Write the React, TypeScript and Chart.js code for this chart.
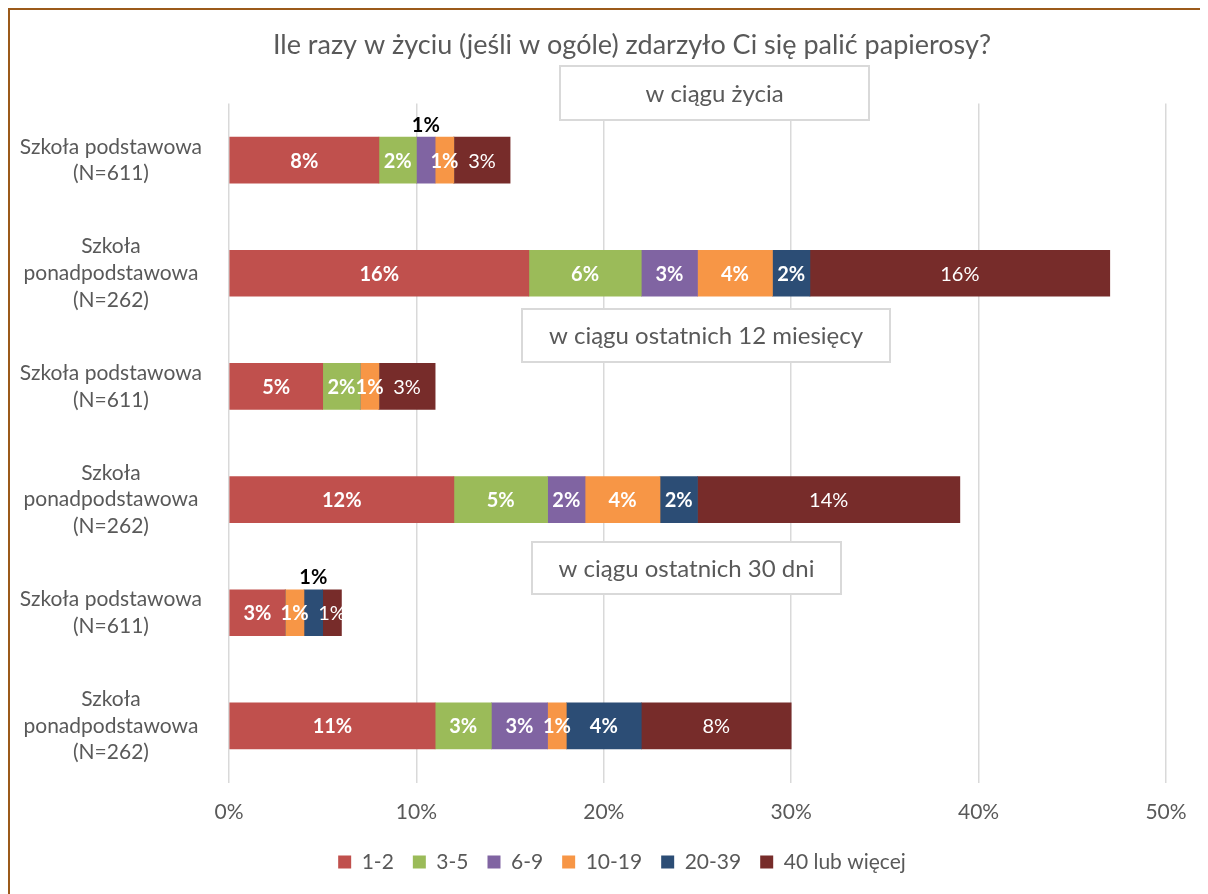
import React, { useEffect, useRef } from "react";
import { Chart, registerables } from "chart.js";

Chart.register(...registerables);

const TITLE = "Ile razy w życiu (jeśli w ogóle) zdarzyło Ci się palić papierosy?";

const categories: string[][] = [
  ["Szkoła podstawowa", "(N=611)"],
  ["Szkoła", "ponadpodstawowa", "(N=262)"],
  ["Szkoła podstawowa", "(N=611)"],
  ["Szkoła", "ponadpodstawowa", "(N=262)"],
  ["Szkoła podstawowa", "(N=611)"],
  ["Szkoła", "ponadpodstawowa", "(N=262)"],
];

const seriesNames = ["1-2", "3-5", "6-9", "10-19", "20-39", "40 lub więcej"];
const seriesColors = ["#C0504D", "#9BBB59", "#8064A2", "#F79646", "#2C4D75", "#772C2A"];

const s1_2 = [8, 16, 5, 12, 3, 11];
const s3_5 = [2, 6, 2, 5, 0, 3];
const s6_9 = [1, 3, 0, 2, 0, 3];
const s10_19 = [1, 4, 1, 4, 1, 1];
const s20_39 = [0, 2, 0, 2, 1, 4];
const s40plus = [3, 16, 3, 14, 1, 8];

const seriesValues = [s1_2, s3_5, s6_9, s10_19, s20_39, s40plus];

const xTicks = [0, 10, 20, 30, 40, 50];

// labels drawn above the bar (dataset index, category index)
const labelsAbove: [number, number][] = [
  [2, 0],
  [4, 4],
];

const periodTitles = ["w ciągu życia", "w ciągu ostatnich 12 miesięcy", "w ciągu ostatnich 30 dni"];

const FONT = "Lato, 'Open Sans', sans-serif";
const GREY = "#595959";

// annotation box geometry (canvas pixels)
const periodBoxes = [
  { x: 550, y: 56, w: 309, h: 54 },
  { x: 512, y: 299, w: 368, h: 53 },
  { x: 522, y: 532, w: 309, h: 52 },
];
const titlePos = { x: 622, y: 35 };
const legendShift = 34;

const overlayPlugin = {
  id: "overlay",
  afterLayout(chart: any) {
    if (chart.legend) {
      chart.legend.left += legendShift;
      chart.legend.right += legendShift;
    }
  },
  afterDraw(chart: any) {
    const ctx = chart.ctx as CanvasRenderingContext2D;
    ctx.save();
    ctx.fillStyle = GREY;
    ctx.font = `27px ${FONT}`;
    ctx.textAlign = "center";
    ctx.textBaseline = "middle";
    ctx.fillText(TITLE, titlePos.x, titlePos.y);
    ctx.restore();
  },
  afterDatasetsDraw(chart: any) {
    const ctx = chart.ctx as CanvasRenderingContext2D;
    ctx.save();
    chart.data.datasets.forEach((ds: any, di: number) => {
      const meta = chart.getDatasetMeta(di);
      meta.data.forEach((bar: any, i: number) => {
        const v = ds.data[i];
        if (!v) return;
        const above = labelsAbove.some(([d, c]) => d === di && c === i);
        const cx = (bar.x + bar.base) / 2;
        ctx.textAlign = "center";
        ctx.textBaseline = "middle";
        if (above) {
          ctx.fillStyle = "#000000";
          ctx.font = `bold 20px ${FONT}`;
          ctx.fillText(v + "%", cx, bar.y - bar.height / 2 - 12);
        } else {
          ctx.fillStyle = "#FFFFFF";
          ctx.font = di === 5 ? `20px ${FONT}` : `bold 20px ${FONT}`;
          ctx.fillText(v + "%", cx, bar.y + 1);
        }
      });
    });
    periodBoxes.forEach((b, k) => {
      ctx.fillStyle = "#FFFFFF";
      ctx.fillRect(b.x, b.y, b.w, b.h);
      ctx.strokeStyle = "#D9D9D9";
      ctx.lineWidth = 2;
      ctx.strokeRect(b.x, b.y, b.w, b.h);
      ctx.fillStyle = GREY;
      ctx.font = `24px ${FONT}`;
      ctx.textAlign = "center";
      ctx.textBaseline = "middle";
      ctx.fillText(periodTitles[k], b.x + b.w / 2, b.y + b.h / 2 + 1);
    });
    ctx.restore();
  },
};

export default function App() {
  const ref = useRef<HTMLCanvasElement | null>(null);
  useEffect(() => {
    document.documentElement.style.overflow = "hidden";
    document.body.style.overflow = "hidden";
    const chart = new Chart(ref.current as HTMLCanvasElement, {
      type: "bar",
      data: {
        labels: categories,
        datasets: seriesNames.map((name, k) => ({
          label: name,
          data: seriesValues[k],
          backgroundColor: seriesColors[k],
          borderWidth: 0,
          barThickness: 46,
        })),
      },
      options: {
        indexAxis: "y",
        responsive: false,
        animation: false,
        layout: { padding: { left: 0, right: 42, top: 93.5, bottom: 11.5 } },
        scales: {
          x: {
            stacked: true,
            min: 0,
            max: 50,
            afterBuildTicks: (scale: any) => {
              scale.ticks = xTicks.map((v) => ({ value: v }));
            },
            afterFit: (scale: any) => {
              scale.height = 50;
            },
            ticks: {
              callback: (v: any) => v + "%",
              color: GREY,
              font: { family: FONT, size: 21 },
              padding: 17,
            },
            grid: { color: "#D9D9D9", lineWidth: 1.5, drawTicks: false },
            border: { display: false },
          },
          y: {
            stacked: true,
            afterFit: (scale: any) => {
              scale.width = 219;
              scale.paddingTop = 0;
              scale.paddingBottom = 0;
            },
            ticks: {
              color: GREY,
              font: { family: FONT, size: 21, lineHeight: 1.27 },
              crossAlign: "center",
              padding: 19,
            },
            grid: { display: false },
            border: { display: false },
          },
        },
        plugins: {
          title: { display: false },
          legend: {
            position: "bottom",
            labels: {
              color: GREY,
              font: { family: FONT, size: 21 },
              boxWidth: 13,
              boxHeight: 13,
              padding: 19,
            },
          },
          tooltip: { enabled: false },
        },
      },
      plugins: [overlayPlugin],
    } as any);
    return () => chart.destroy();
  }, []);
  return (
    <div
      style={{
        width: 1198,
        height: 884,
        borderTop: "2px solid #9B5A1A",
        borderLeft: "2px solid #9B5A1A",
        background: "#FFFFFF",
        overflow: "hidden",
      }}
    >
      <canvas ref={ref} width={1198} height={884} style={{ display: "block" }} />
    </div>
  );
}
